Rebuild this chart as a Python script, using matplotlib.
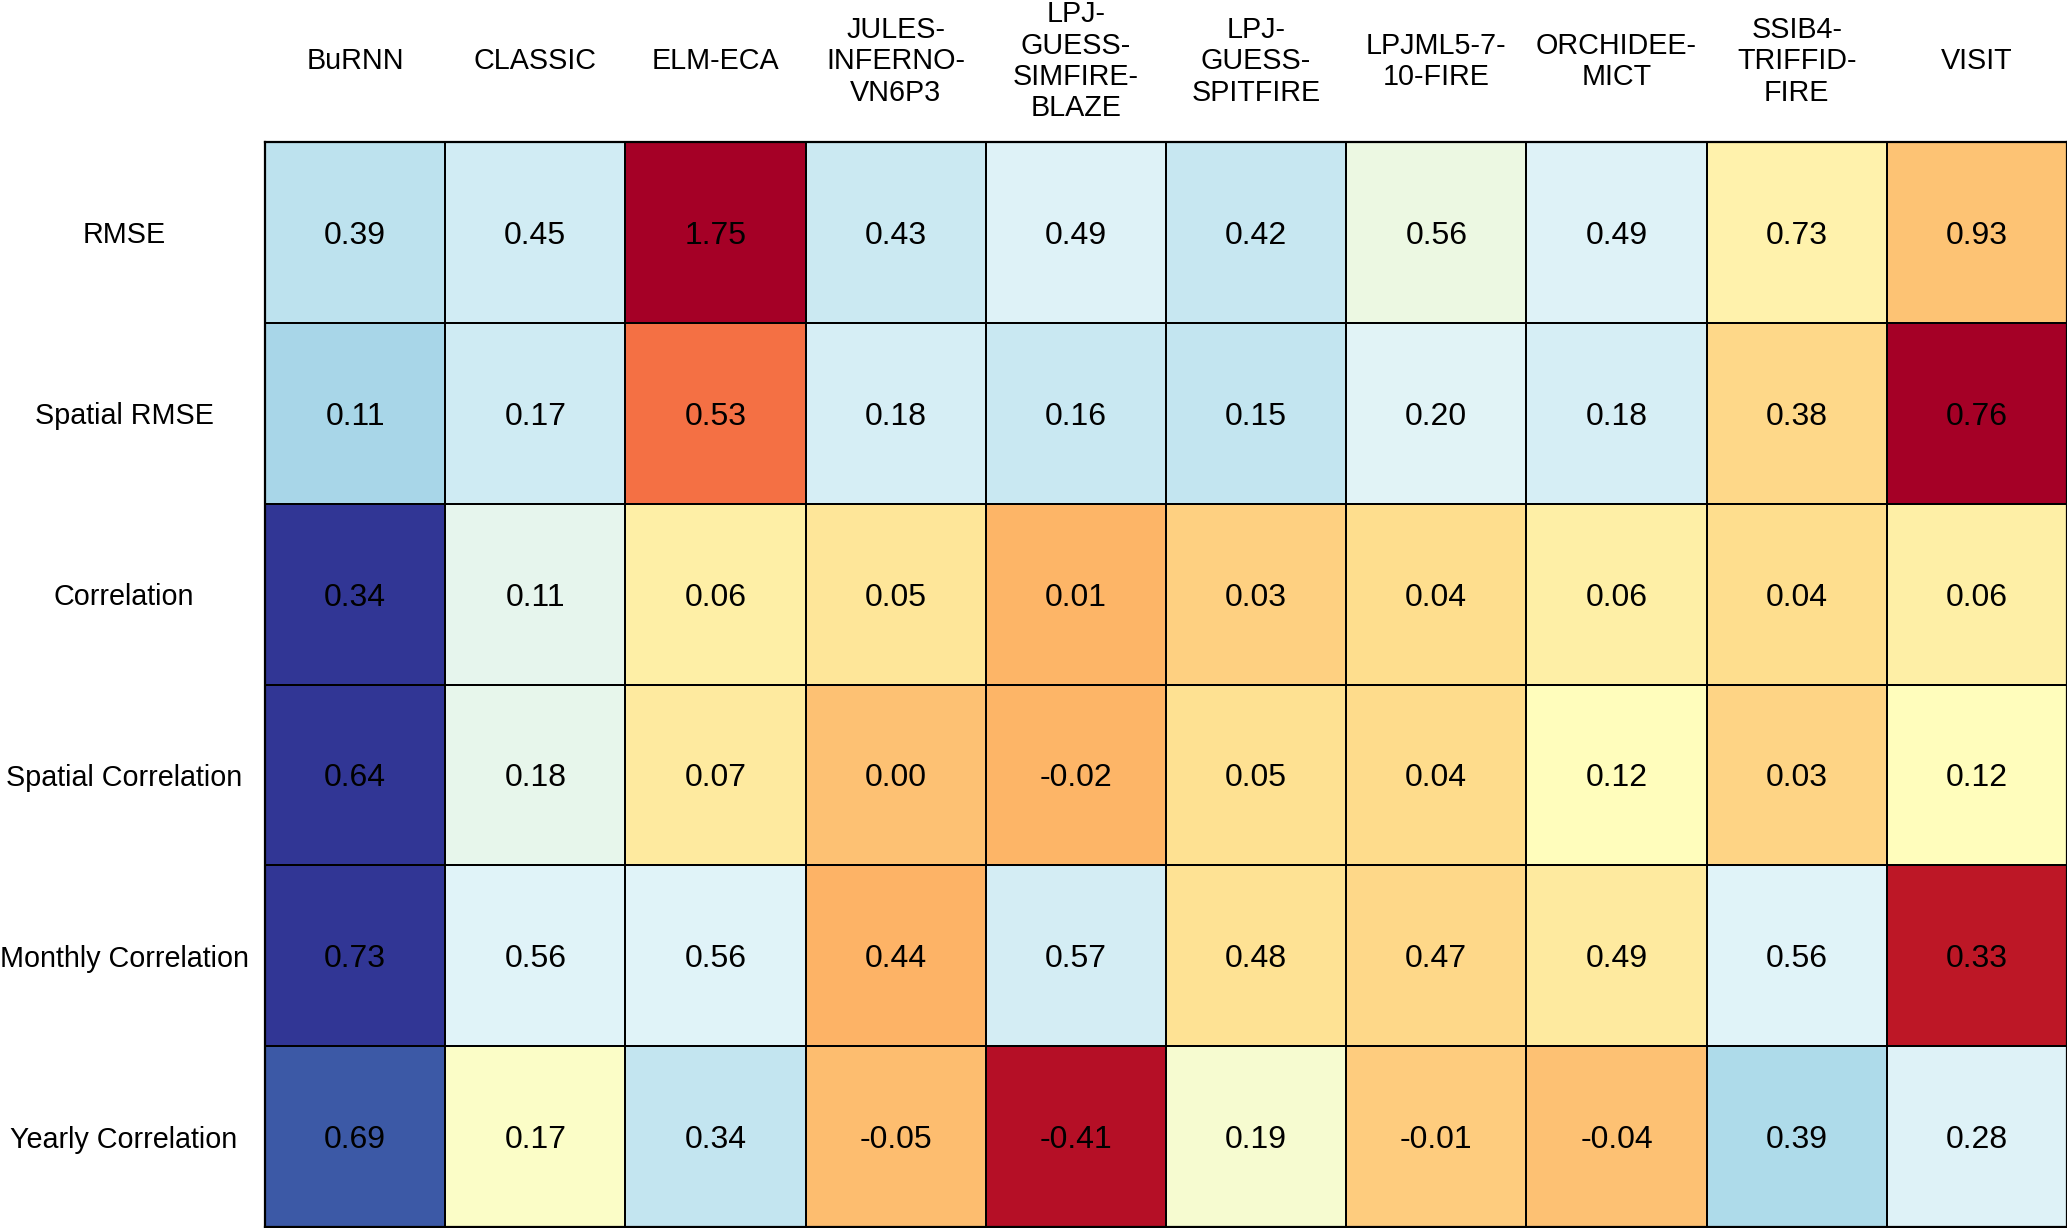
import matplotlib.pyplot as plt
import numpy as np

plt.rcParams['font.family'] = ['Liberation Sans', 'DejaVu Sans']

models = ["BuRNN", "CLASSIC", "ELM-ECA", "JULES-\nINFERNO-\nVN6P3", "LPJ-\nGUESS-\nSIMFIRE-\nBLAZE",
          "LPJ-\nGUESS-\nSPITFIRE", "LPJML5-7-\n10-FIRE", "ORCHIDEE-\nMICT", "SSIB4-\nTRIFFID-\nFIRE", "VISIT"]
metrics = ["RMSE", "Spatial RMSE", "Correlation", "Spatial Correlation",
           "Monthly Correlation", "Yearly Correlation"]

rmse = [0.39, 0.45, 1.75, 0.43, 0.49, 0.42, 0.56, 0.49, 0.73, 0.93]
spatial_rmse = [0.11, 0.17, 0.53, 0.18, 0.16, 0.15, 0.20, 0.18, 0.38, 0.76]
correlation = [0.34, 0.11, 0.06, 0.05, 0.01, 0.03, 0.04, 0.06, 0.04, 0.06]
spatial_corr = [0.64, 0.18, 0.07, 0.00, -0.02, 0.05, 0.04, 0.12, 0.03, 0.12]
monthly_corr = [0.73, 0.56, 0.56, 0.44, 0.57, 0.48, 0.47, 0.49, 0.56, 0.33]
yearly_corr = [0.69, 0.17, 0.34, -0.05, -0.41, 0.19, -0.01, -0.04, 0.39, 0.28]
lower_is_better = [True, True, False, False, False, False]

values = np.array([rmse, spatial_rmse, correlation, spatial_corr, monthly_corr, yearly_corr])

# colour by row-wise z-score, flipped so that blue is always "better"
z = (values - values.mean(axis=1, keepdims=True)) / values.std(axis=1, ddof=1, keepdims=True)
score = np.where(np.array(lower_is_better)[:, None], z, -z)

W, H = 2067, 1228
fig = plt.figure(figsize=(W / 100, H / 100), dpi=100)
ax = fig.add_axes([265 / W, 1 / H, 1802 / W, 1085 / H])

ax.pcolormesh(score, cmap='RdYlBu_r', vmin=-2, vmax=2, edgecolors='black', linewidth=1.1)
ax.set_xlim(0, len(models))
ax.set_ylim(len(metrics), 0)

for i in range(values.shape[0]):
    for j in range(values.shape[1]):
        ax.text(j + 0.5, i + 0.5, '{:.2f}'.format(values[i, j]),
                ha='center', va='center_baseline', fontsize=23, color='black')

ax.xaxis.tick_top()
ax.set_xticks(np.arange(len(models)) + 0.5)
ax.set_xticklabels(models, fontsize=20.7, linespacing=1.15)
ax.set_yticks(np.arange(len(metrics)) + 0.5)
ax.set_yticklabels(metrics, fontsize=20.7)
ax.tick_params(axis='x', length=0, pad=58)
ax.tick_params(axis='y', length=0, pad=101.5)
for lbl in ax.get_xticklabels():
    lbl.set_verticalalignment('center')
    lbl.set_multialignment('center')
for lbl in ax.get_yticklabels():
    lbl.set_horizontalalignment('center')
    lbl.set_verticalalignment('center_baseline')

for s in ax.spines.values():
    s.set_linewidth(1.6)

fig.savefig('out.png', dpi=100)
